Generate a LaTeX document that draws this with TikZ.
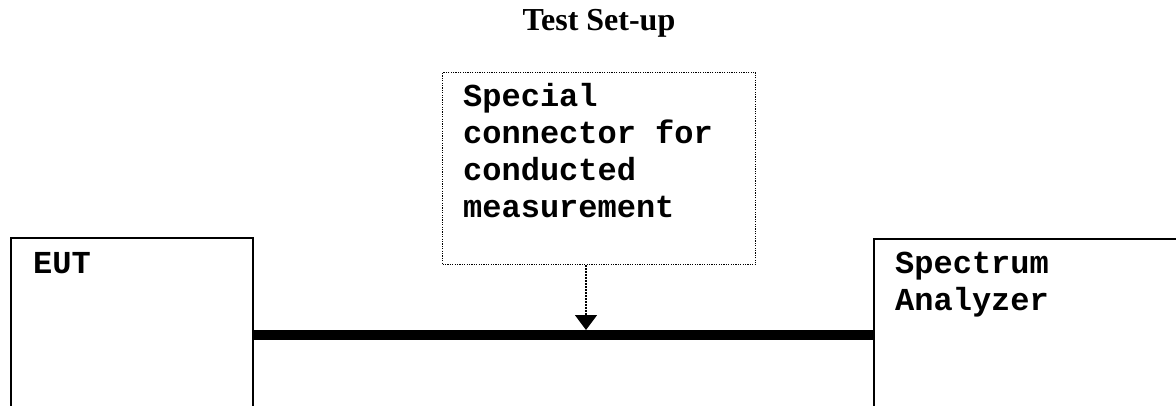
\documentclass[tikz,border=0pt]{standalone}
\usepackage{fontspec}
\setmainfont{Liberation Serif}
\newfontfamily\monob{Liberation Mono Bold}
\usetikzlibrary{arrows.meta}
\tikzset{
  boxsolid/.style={draw=black, line width=2pt, inner sep=0pt, anchor=north west},
  boxdotted/.style={draw=black, line width=1.3pt, dash pattern=on 1.2pt off 1.2pt, inner sep=0pt, anchor=north west},
  lbl/.style={inner sep=0pt, anchor=base west, align=left, font=\monob\fontsize{32}{37}\selectfont},
  cable/.style={line width=10pt},
  pointer/.style={line width=1.5pt, dash pattern=on 1.5pt off 1.5pt, -{Triangle[width=22pt,length=15pt]}}
}
\begin{document}
\begin{tikzpicture}[x=1pt,y=-1pt]
\useasboundingbox (0,0) rectangle (1176,406);
\node[font=\bfseries\fontsize{32}{36}\selectfont, inner sep=0pt, anchor=base] (title) at (599,31) {Test Set-up};
\node[boxsolid, minimum width=242pt, minimum height=240pt] (eut) at (10,237) {};
\node[boxsolid, minimum width=340pt, minimum height=240pt] (sa) at (873,238) {};
\node[boxdotted, minimum width=313pt, minimum height=192pt] (note) at (442,72) {};
\node[lbl] (eutt) at (33,273) {EUT};
\node[lbl] (sat) at (895,310) {Spectrum\\Analyzer};
\node[lbl] (notet) at (463,218) {Special\\connector for\\conducted\\measurement};
\coordinate (j) at (586,335);
\draw[cable] (eut.east |- j) -- (sa.west |- j);
\draw[pointer, shorten >=5pt] (note.south -| j) -- (j);
\end{tikzpicture}
\end{document}
